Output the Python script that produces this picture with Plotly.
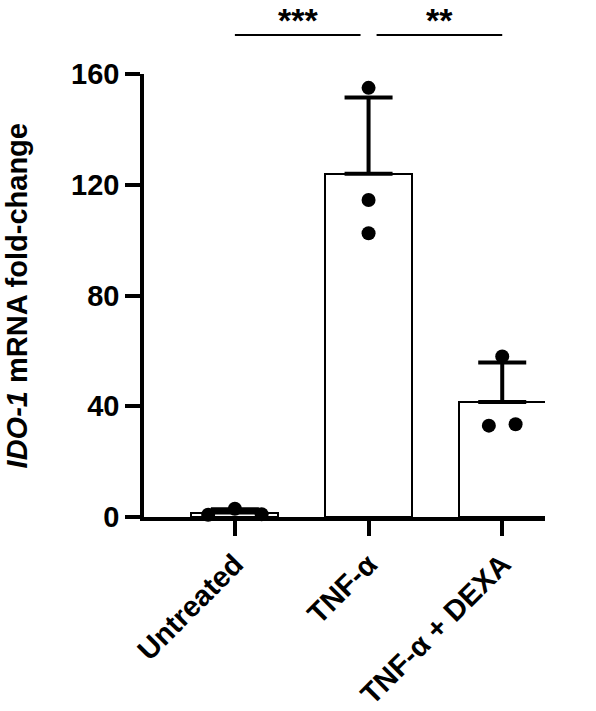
import numpy as np
import plotly.graph_objects as go

categories = ["Untreated", "TNF-α", "TNF-α + DEXA"]
untreated_vals = [0.8, 3.0, 1.0]
tnf_vals = [155.0, 114.5, 102.5]
dexa_vals = [33.0, 58.0, 33.5]
y_ticks = [0, 40, 80, 120, 160]
sig_labels = ["***", "**"]

groups = [untreated_vals, tnf_vals, dexa_vals]
means = [float(np.mean(g)) for g in groups]
sds = [float(np.std(g, ddof=1)) for g in groups]

FONT = "Liberation Sans, Arial, Helvetica, sans-serif"
xpos = list(range(len(categories)))

fig = go.Figure()
fig.add_trace(go.Bar(
    x=xpos, y=means, width=0.65,
    marker=dict(color="white", line=dict(color="black", width=2)),
    error_y=dict(type="data", symmetric=False, array=sds, arrayminus=[0]*3,
                 color="black", thickness=4, width=24),
    showlegend=False, hoverinfo="skip",
))

offsets = [[-0.2, 0.0, 0.2], [0.0, 0.0, 0.0], [-0.1, 0.0, 0.1]]
dx, dy = [], []
for i, g in enumerate(groups):
    for j, v in enumerate(g):
        dx.append(i + offsets[i][j])
        dy.append(v)
fig.add_trace(go.Scatter(
    x=dx, y=dy, mode="markers",
    marker=dict(color="black", size=14),
    cliponaxis=False, showlegend=False, hoverinfo="skip",
))

# significance bars
sig_pairs = [(0, 0.94), (1.06, 2.0)]
for (a, b), lab in zip(sig_pairs, sig_labels):
    fig.add_shape(type="line", xref="x", yref="paper", x0=a, x1=b, y0=1.088, y1=1.088,
                  line=dict(color="black", width=2))
    fig.add_annotation(x=(a + b) / 2, y=1.167, xref="x", yref="paper", text=f"<b>{lab}</b>",
                       showarrow=False, font=dict(family=FONT, size=34, color="black"),
                       xanchor="center", yanchor="top", borderpad=0)

fig.add_annotation(x=-0.317, y=0.5, xref="paper", yref="paper",
                   text="<b><i>IDO-1</i> mRNA fold-change</b>", textangle=-90,
                   showarrow=False, font=dict(family=FONT, size=29, color="black"),
                   xanchor="center", yanchor="middle")

axis_common = dict(showline=True, linecolor="black", linewidth=3.5, ticks="outside",
                   ticklen=15, tickwidth=3.5, tickcolor="black", showgrid=False,
                   zeroline=False, automargin=False)
fig.update_xaxes(range=[-0.68, 2.32], tickvals=xpos,
                 ticktext=[f"<b>{c}</b>" for c in categories], tickangle=-45,
                 tickfont=dict(family=FONT, size=29, color="black"), **axis_common)
fig.update_yaxes(range=[0, 160], tickvals=y_ticks,
                 ticktext=[f"<b>{t}</b>" for t in y_ticks],
                 tickfont=dict(family=FONT, size=29, color="black"), **axis_common)

fig.update_layout(width=596, height=711, margin=dict(l=144, r=51, t=74, b=194),
                  plot_bgcolor="white", paper_bgcolor="white", bargap=0)
fig.write_html("out.html")
